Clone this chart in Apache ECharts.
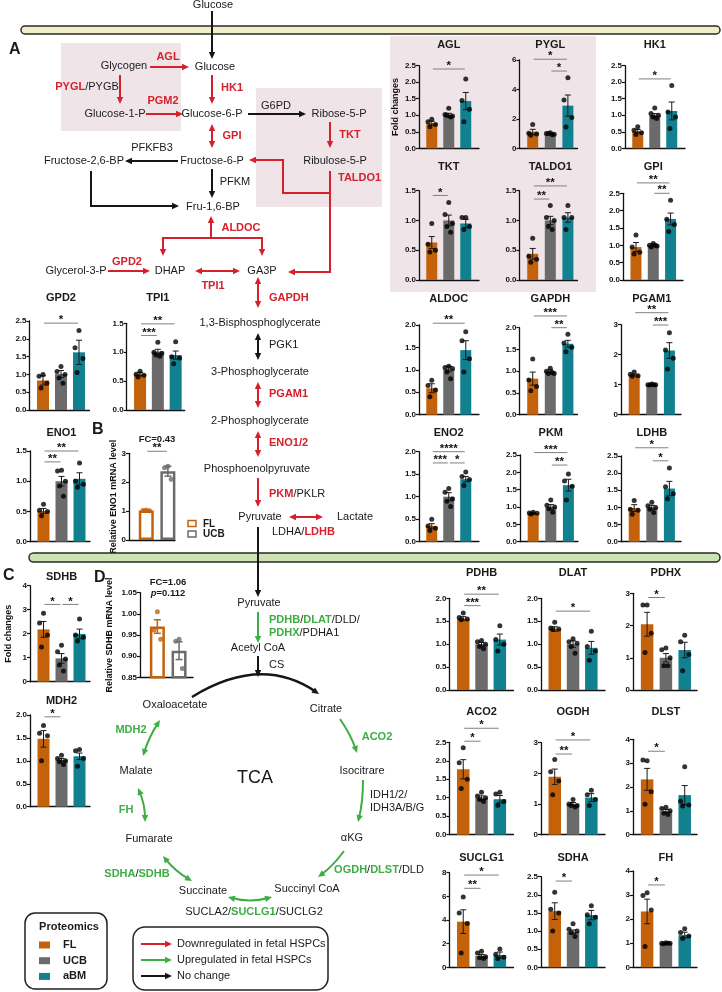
<!DOCTYPE html>
<html><head><meta charset="utf-8">
<script src="https://cdn.jsdelivr.net/npm/echarts@6/dist/echarts.min.js"></script>
<style>html,body{margin:0;padding:0;background:#fff}#c{width:722px;height:992px}</style>
</head><body><div id="c"></div>
<script>
// ---------------- DATA ----------------
const groups = ['FL', 'UCB', 'aBM'];
const groupsPCR = ['FL', 'UCB'];

const AGL_mean = [0.76, 1.00, 1.43];
const AGL_sem = [0.06, 0.06, 0.26];
const AGL_dots = [[0.88, 0.80, 0.72, 0.65], [1.21, 1.02, 0.98, 1.00, 0.95], [2.10, 1.45, 1.18, 0.80]];
const AGL_sig = [[0, 2, 2.4, '*']];

const PYGL_mean = [1.12, 0.98, 2.90];
const PYGL_sem = [0.17, 0.04, 0.72];
const PYGL_dots = [[1.62, 1.02, 0.98, 0.88], [1.05, 1.00, 0.95, 1.00, 0.92], [4.80, 3.28, 2.10, 1.45]];
const PYGL_sig = [[0, 2, 6.05, '*'], [1, 2, 5.25, '*']];

const HK1_mean = [0.52, 1.00, 1.13];
const HK1_sem = [0.05, 0.05, 0.27];
const HK1_dots = [[0.65, 0.55, 0.47, 0.42], [1.22, 1.05, 1.00, 0.95, 0.90], [1.90, 1.10, 0.95, 0.60]];
const HK1_sig = [[0, 2, 2.1, '*']];

const TKT_mean = [0.63, 1.00, 0.95];
const TKT_sem = [0.10, 0.09, 0.07];
const TKT_dots = [[0.95, 0.60, 0.50, 0.47], [1.30, 1.10, 0.95, 0.90, 0.80], [1.05, 1.05, 0.90, 0.85]];
const TKT_sig = [[0, 1, 1.42, '*']];

const TALDO1_mean = [0.44, 1.00, 1.05];
const TALDO1_sem = [0.09, 0.07, 0.08];
const TALDO1_dots = [[0.70, 0.40, 0.35, 0.30], [1.25, 1.05, 1.00, 0.90, 0.85], [1.25, 1.05, 1.05, 0.85]];
const TALDO1_sig = [[0, 1, 1.36, '**'], [0, 2, 1.58, '**']];

const GPI_mean = [0.95, 1.00, 1.76];
const GPI_sem = [0.13, 0.04, 0.17];
const GPI_dots = [[1.30, 0.95, 0.80, 0.75], [1.05, 1.00, 0.98, 0.95, 1.00], [2.30, 1.75, 1.60, 1.40]];
const GPI_sig = [[0, 2, 2.8, '**'], [1, 2, 2.5, '**']];

const ALDOC_mean = [0.59, 1.02, 1.44];
const ALDOC_sem = [0.10, 0.06, 0.21];
const ALDOC_dots = [[0.77, 0.65, 0.55, 0.40], [1.08, 1.05, 1.03, 0.95, 0.80], [1.85, 1.65, 1.25, 0.95]];
const ALDOC_sig = [[0, 2, 2.04, '**']];

const GAPDH_mean = [0.83, 1.00, 1.63];
const GAPDH_sem = [0.15, 0.03, 0.08];
const GAPDH_dots = [[1.28, 0.80, 0.65, 0.55], [1.07, 1.00, 0.95, 0.95, 0.97], [1.85, 1.65, 1.55, 1.45]];
const GAPDH_sig = [[0, 2, 2.27, '***'], [1, 2, 2.0, '**']];

const PGAM1_mean = [1.32, 1.01, 2.14];
const PGAM1_sem = [0.03, 0.01, 0.26];
const PGAM1_dots = [[1.42, 1.35, 1.30, 1.28], [1.02, 1.00, 1.00, 0.99, 1.00], [2.73, 2.16, 1.88, 1.52]];
const PGAM1_sig = [[0, 2, 3.4, '**'], [1, 2, 2.99, '***']];

const ENO2_mean = [0.35, 1.00, 1.39];
const ENO2_sem = [0.05, 0.09, 0.06];
const ENO2_dots = [[0.50, 0.35, 0.30, 0.25], [1.18, 1.10, 0.95, 0.90, 0.78], [1.55, 1.45, 1.38, 1.25]];
const ENO2_sig = [[0, 2, 2.0, '****'], [0, 1, 1.75, '***'], [1, 2, 1.75, '*']];

const PKM_mean = [0.82, 1.00, 1.63];
const PKM_sem = [0.02, 0.07, 0.17];
const PKM_dots = [[0.85, 0.83, 0.82, 0.80], [1.20, 1.05, 1.00, 0.95, 0.85], [1.95, 1.75, 1.60, 1.20]];
const PKM_sig = [[0, 2, 2.57, '***'], [1, 2, 2.21, '**']];

const LDHB_mean = [0.98, 1.00, 1.55];
const LDHB_sem = [0.10, 0.06, 0.21];
const LDHB_dots = [[1.20, 0.95, 0.92, 0.80], [1.15, 1.05, 1.00, 0.95, 0.85], [2.15, 1.60, 1.40, 1.25]];
const LDHB_sig = [[0, 2, 2.74, '*'], [1, 2, 2.36, '*']];

const PDHB_mean = [1.56, 1.00, 1.10];
const PDHB_sem = [0.04, 0.04, 0.12];
const PDHB_dots = [[1.68, 1.58, 1.55, 1.53], [1.08, 1.05, 1.00, 0.95, 0.90], [1.40, 1.10, 1.00, 0.85]];
const PDHB_sig = [[0, 2, 2.09, '**'], [0, 1, 1.84, '***']];

const DLAT_mean = [1.33, 1.00, 0.92];
const DLAT_sem = [0.05, 0.07, 0.14];
const DLAT_dots = [[1.48, 1.35, 1.33, 1.32], [1.12, 1.05, 1.02, 0.95, 0.80], [1.28, 0.95, 0.85, 0.65]];
const DLAT_sig = [[0, 2, 1.72, '*']];

const PDHX_mean = [2.04, 1.00, 1.24];
const PDHX_sem = [0.37, 0.13, 0.24];
const PDHX_dots = [[2.64, 2.64, 1.76, 1.16], [1.30, 1.25, 1.00, 0.75, 0.75], [1.70, 1.50, 1.10, 0.60]];
const PDHX_sig = [[0, 1, 2.87, '*']];

const ACO2_mean = [1.77, 1.00, 0.96];
const ACO2_sem = [0.26, 0.05, 0.10];
const ACO2_dots = [[2.35, 1.95, 1.50, 1.25], [1.15, 1.05, 1.00, 0.95, 0.90], [1.15, 1.10, 0.90, 0.80]];
const ACO2_sig = [[0, 2, 2.88, '*'], [0, 1, 2.53, '*']];

const OGDH_mean = [1.89, 1.00, 1.21];
const OGDH_sem = [0.25, 0.05, 0.13];
const OGDH_dots = [[2.45, 2.05, 1.75, 1.30], [1.15, 1.00, 0.95, 0.95, 0.90], [1.45, 1.30, 1.15, 0.95]];
const OGDH_sig = [[0, 2, 3.09, '*'], [0, 1, 2.63, '**']];

const DLST_mean = [2.32, 0.99, 1.66];
const DLST_sem = [0.46, 0.07, 0.40];
const DLST_dots = [[3.10, 3.13, 1.80, 1.28], [1.15, 1.10, 1.00, 0.90, 0.85], [2.85, 1.40, 1.25, 1.20]];
const DLST_sig = [[0, 1, 3.5, '*']];

const SUCLG1_mean = [3.86, 0.96, 1.04];
const SUCLG1_sem = [1.00, 0.12, 0.25];
const SUCLG1_dots = [[5.95, 4.60, 3.70, 1.20], [1.35, 1.20, 0.90, 0.80, 0.75], [1.55, 1.10, 0.85, 0.75]];
const SUCLG1_sig = [[0, 2, 7.8, '*'], [0, 1, 6.68, '**']];

const SDHA_mean = [1.55, 0.98, 1.44];
const SDHA_sem = [0.23, 0.05, 0.13];
const SDHA_dots = [[2.07, 1.60, 1.50, 1.00], [1.20, 1.05, 1.00, 0.95, 0.85], [1.70, 1.45, 1.38, 1.20]];
const SDHA_sig = [[0, 1, 2.38, '*']];

const FH_mean = [2.32, 1.00, 1.34];
const FH_sem = [0.51, 0.02, 0.12];
const FH_dots = [[3.10, 2.98, 2.38, 0.86], [1.02, 1.00, 1.00, 0.98, 1.00], [1.60, 1.45, 1.30, 1.20]];
const FH_sig = [[0, 1, 3.42, '*']];

const GPD2_mean = [0.83, 1.01, 1.62];
const GPD2_sem = [0.13, 0.10, 0.34];
const GPD2_dots = [[1.00, 0.95, 0.75, 0.62], [1.22, 1.08, 1.00, 0.90, 0.75], [2.23, 1.75, 1.45, 1.05]];
const GPD2_sig = [[0, 2, 2.44, '*']];

const TPI1_mean = [0.62, 1.01, 0.95];
const TPI1_sem = [0.03, 0.04, 0.07];
const TPI1_dots = [[0.67, 0.62, 0.60, 0.57], [1.17, 1.00, 0.98, 0.95, 0.93], [1.18, 0.92, 0.90, 0.80]];
const TPI1_sig = [[0, 2, 1.49, '**'], [0, 1, 1.29, '***']];

const ENO1_mean = [0.51, 1.00, 1.04];
const ENO1_sem = [0.04, 0.08, 0.10];
const ENO1_dots = [[0.62, 0.52, 0.50, 0.43], [1.18, 1.17, 1.00, 0.92, 0.75], [1.30, 1.00, 0.95, 0.90]];
const ENO1_sig = [[0, 2, 1.5, '**'], [0, 1, 1.32, '**']];

const SDHB_mean = [2.18, 0.97, 1.99];
const SDHB_sem = [0.33, 0.20, 0.20];
const SDHB_dots = [[2.85, 2.45, 1.95, 1.45], [1.52, 1.25, 0.95, 0.70, 0.45], [2.61, 1.95, 1.85, 1.70]];
const SDHB_sig = [[0, 1, 3.22, '*'], [1, 2, 3.22, '*']];

const MDH2_mean = [1.48, 1.02, 1.10];
const MDH2_sem = [0.18, 0.03, 0.07];
const MDH2_dots = [[1.77, 1.60, 1.55, 1.00], [1.12, 1.05, 1.00, 0.98, 0.92], [1.25, 1.22, 1.05, 0.88]];
const MDH2_sig = [[0, 1, 1.96, '*']];

// qPCR panels (B, D)
const ENO1mRNA_mean = [1.02, 2.38];
const ENO1mRNA_sem = [0.02, 0.17];
const ENO1mRNA_dots = [[1.04, 1.02, 1.01], [2.55, 2.50, 2.10]];
const ENO1mRNA_sig = [[0, 1, 3.07, '**']];

const SDHBmRNA_mean = [0.970, 0.913];
const SDHBmRNA_sem = [0.016, 0.021];
const SDHBmRNA_dots = [[1.005, 0.962, 0.940], [0.940, 0.935, 0.871]];
const SDHBmRNA_sig = [];

// ---------------- STYLE / LAYOUT ----------------
const FONT = '"Liberation Sans", Arial, Helvetica, sans-serif';
const RED = '#D6202B', GREEN = '#3DAE44', BLK = '#151515', TXT = '#1a1a1a';
const COL = ['#C4620B', '#6B6B6B', '#11808F'];
const pos3 = [0.75, 1.75, 2.75];
const pos2 = [0.8, 1.8];
const jit = [0, -0.22, 0.22, -0.11, 0.11];

const DATA = {
  AGL: [AGL_mean, AGL_sem, AGL_dots, AGL_sig], PYGL: [PYGL_mean, PYGL_sem, PYGL_dots, PYGL_sig],
  HK1: [HK1_mean, HK1_sem, HK1_dots, HK1_sig], TKT: [TKT_mean, TKT_sem, TKT_dots, TKT_sig],
  TALDO1: [TALDO1_mean, TALDO1_sem, TALDO1_dots, TALDO1_sig], GPI: [GPI_mean, GPI_sem, GPI_dots, GPI_sig],
  ALDOC: [ALDOC_mean, ALDOC_sem, ALDOC_dots, ALDOC_sig], GAPDH: [GAPDH_mean, GAPDH_sem, GAPDH_dots, GAPDH_sig],
  PGAM1: [PGAM1_mean, PGAM1_sem, PGAM1_dots, PGAM1_sig], ENO2: [ENO2_mean, ENO2_sem, ENO2_dots, ENO2_sig],
  PKM: [PKM_mean, PKM_sem, PKM_dots, PKM_sig], LDHB: [LDHB_mean, LDHB_sem, LDHB_dots, LDHB_sig],
  PDHB: [PDHB_mean, PDHB_sem, PDHB_dots, PDHB_sig], DLAT: [DLAT_mean, DLAT_sem, DLAT_dots, DLAT_sig],
  PDHX: [PDHX_mean, PDHX_sem, PDHX_dots, PDHX_sig], ACO2: [ACO2_mean, ACO2_sem, ACO2_dots, ACO2_sig],
  OGDH: [OGDH_mean, OGDH_sem, OGDH_dots, OGDH_sig], DLST: [DLST_mean, DLST_sem, DLST_dots, DLST_sig],
  SUCLG1: [SUCLG1_mean, SUCLG1_sem, SUCLG1_dots, SUCLG1_sig], SDHA: [SDHA_mean, SDHA_sem, SDHA_dots, SDHA_sig],
  FH: [FH_mean, FH_sem, FH_dots, FH_sig], GPD2: [GPD2_mean, GPD2_sem, GPD2_dots, GPD2_sig],
  TPI1: [TPI1_mean, TPI1_sem, TPI1_dots, TPI1_sig], ENO1: [ENO1_mean, ENO1_sem, ENO1_dots, ENO1_sig],
  SDHB: [SDHB_mean, SDHB_sem, SDHB_dots, SDHB_sig], MDH2: [MDH2_mean, MDH2_sem, MDH2_dots, MDH2_sig],
  ENO1mRNA: [ENO1mRNA_mean, ENO1mRNA_sem, ENO1mRNA_dots, ENO1mRNA_sig],
  SDHBmRNA: [SDHBmRNA_mean, SDHBmRNA_sem, SDHBmRNA_dots, SDHBmRNA_sig]
};

// name, axisX, topPx, bottomPx, width, unit, ymin, ymax, interval, decimals, barW, titleY
const layout = [
  ['AGL', 419, 65.7, 148.3, 60, 17, 0, 2.5, 0.5, 1, 11, 45],
  ['PYGL', 519.5, 60, 148.3, 58, 17.6, 0, 6, 2, 0, 11, 45],
  ['HK1', 625, 65.7, 148.3, 60, 17, 0, 2.5, 0.5, 1, 11, 45],
  ['TKT', 419, 190.7, 280, 60, 17, 0, 1.5, 0.5, 1, 11, 166.7],
  ['TALDO1', 519.5, 190.7, 280, 58, 17.6, 0, 1.5, 0.5, 1, 11, 166.7],
  ['GPI', 623, 193.3, 280, 60, 17.3, 0, 2.5, 0.5, 1, 11, 166.7],
  ['ALDOC', 419, 325, 414.7, 60, 17, 0, 2, 0.5, 1, 11, 299],
  ['GAPDH', 519.5, 327.7, 414.7, 58, 17.6, 0, 2, 0.5, 1, 11, 299],
  ['PGAM1', 621, 324.7, 414.7, 60, 17.6, 0, 3, 1, 0, 11, 299],
  ['ENO2', 419, 451.7, 541.7, 60, 17, 0, 2, 0.5, 1, 11, 433.3],
  ['PKM', 520, 455, 541.7, 58, 17.6, 0, 2.5, 0.5, 1, 11, 433.3],
  ['LDHB', 621, 456, 541.7, 60, 17.6, 0, 2.5, 0.5, 1, 11, 433.3],
  ['PDHB', 449.5, 598.3, 690, 64, 18.3, 0, 2, 0.5, 1, 12.5, 573.3],
  ['DLAT', 541, 598.3, 690, 64, 18.3, 0, 2, 0.5, 1, 12.5, 573.3],
  ['PDHX', 633, 593.3, 690, 64, 18.8, 0, 3, 1, 0, 12.5, 573.3],
  ['ACO2', 449.5, 742.3, 834.7, 64, 18.3, 0, 2.5, 0.5, 1, 12.5, 712.3],
  ['OGDH', 541, 742.7, 834.7, 64, 18.3, 0, 3, 1, 0, 12.5, 712.3],
  ['DLST', 633, 739.3, 834.7, 64, 18.8, 0, 4, 1, 0, 12.5, 712.3],
  ['SUCLG1', 449.5, 872.7, 967.3, 64, 18.3, 0, 8, 2, 0, 12.5, 858.3],
  ['SDHA', 541, 876.7, 967.3, 64, 18.3, 0, 2.5, 0.5, 1, 12.5, 858.3],
  ['FH', 633, 871, 967.3, 64, 18.8, 0, 4, 1, 0, 12.5, 858.3],
  ['GPD2', 29.5, 321, 410, 60, 18, 0, 2.5, 0.5, 1, 12, 298.3],
  ['TPI1', 126.7, 323.3, 410, 58, 17.8, 0, 1.5, 0.5, 1, 12, 298.3],
  ['ENO1', 30, 451, 541.7, 60, 18, 0, 1.5, 0.5, 1, 12, 433.3],
  ['SDHB', 30, 585.7, 681.7, 60, 18, 0, 4, 1, 0, 12, 576.7],
  ['MDH2', 30, 715, 806.7, 60, 18, 0, 2, 0.5, 1, 12, 701],
  ['ENO1mRNA', 129, 453.3, 540, 46, 21.6, 0, 3, 1, 0, 15, null],
  ['SDHBmRNA', 140, 592.7, 677.3, 53, 21.7, 0.85, 1.05, 0.05, 2, 15, null]
];
const yNames = {
  AGL: ['Fold changes', 19], SDHB: ['Fold changes', 17],
  ENO1mRNA: ['Relative ENO1 mRNA level', 9], SDHBmRNA: ['Relative SDHB mRNA level', 26]
};

// ---------------- GRAPHIC HELPERS ----------------
const G = [];
function txt(x, y, s, o = {}) {
  const al = o.align || 'center';
  const st = {
    text: s, fill: o.fill || TXT,
    font: (o.italic ? 'italic ' : '') + (o.bold ? 'bold ' : '') + (o.size || 11) + 'px ' + FONT,
    textAlign: al, textVerticalAlign: 'middle', align: al, verticalAlign: 'middle'
  };
  if (o.rich) st.rich = o.rich;
  G.push({ type: 'text', x: x, y: y, z: 30, silent: true, style: st });
}
function mkRich(size) {
  return {
    r: { fill: RED, font: 'bold ' + size + 'px ' + FONT, fontWeight: 'bold', fontSize: size, fontFamily: FONT },
    g: { fill: GREEN, font: 'bold ' + size + 'px ' + FONT, fontWeight: 'bold', fontSize: size, fontFamily: FONT },
    k: { fill: TXT, font: size + 'px ' + FONT, fontSize: size, fontFamily: FONT },
    i: { fill: TXT, font: 'italic bold ' + size + 'px ' + FONT, fontStyle: 'italic', fontWeight: 'bold', fontSize: size, fontFamily: FONT },
    b: { fill: TXT, font: 'bold ' + size + 'px ' + FONT, fontWeight: 'bold', fontSize: size, fontFamily: FONT }
  };
}
const RK = mkRich(11);
function head(tip, from, color, L = 7, W = 3.2) {
  const dx = tip[0] - from[0], dy = tip[1] - from[1], d = Math.hypot(dx, dy), ux = dx / d, uy = dy / d;
  const bx = tip[0] - ux * L, by = tip[1] - uy * L;
  G.push({ type: 'polygon', z: 25, silent: true, shape: { points: [tip, [bx - uy * W, by + ux * W], [bx + uy * W, by - ux * W]] }, style: { fill: color } });
}
function cut(a, b, k) { const dx = a[0] - b[0], dy = a[1] - b[1], d = Math.hypot(dx, dy); return [a[0] - dx / d * k, a[1] - dy / d * k]; }
function plain(pts, color, lw = 2) {
  G.push({ type: 'polyline', z: 24, silent: true, shape: { points: pts }, style: { stroke: color, lineWidth: lw, fill: null } });
}
function arr(pts, color, both = false, lw = 2) {
  const n = pts.length; const p = pts.map(q => q.slice());
  p[n - 1] = cut(pts[n - 1], pts[n - 2], 5);
  if (both) p[0] = cut(pts[0], pts[1], 5);
  plain(p, color, lw);
  head(pts[n - 1], pts[n - 2], color);
  if (both) head(pts[0], pts[1], color);
}
function curv(p0, c, p1, color, both = false, lw = 2) {
  const e = cut(p1, c, 4), s = both ? cut(p0, c, 4) : p0;
  G.push({ type: 'bezierCurve', z: 24, silent: true, shape: { x1: s[0], y1: s[1], x2: e[0], y2: e[1], cpx1: c[0], cpy1: c[1] }, style: { stroke: color, lineWidth: lw, fill: null } });
  head(p1, c, color);
  if (both) head(p0, c, color);
}
function rect(x, y, w, h, r, fill, stroke, lw, z) {
  G.push({ type: 'rect', z: z, silent: true, shape: { x: x, y: y, width: w, height: h, r: r }, style: { fill: fill, stroke: stroke, lineWidth: lw || 0 } });
}

// background boxes / membranes
rect(61, 43, 120, 88, 0, '#EFE5E8', null, 0, -5);
rect(256, 88, 126, 119, 0, '#EFE5E8', null, 0, -5);
rect(390, 36, 206, 256, 0, '#EFE5E8', null, 0, -5);
rect(21, 26, 699, 8, 4, '#F2EFC8', '#2a2a2a', 1.5, 5);
rect(29, 553, 691, 9, 4.5, '#CDE3B3', '#2a2a2a', 1.5, 5);

// panel letters
txt(9, 50, 'A', { bold: 1, size: 16, align: 'left' });
txt(92, 430, 'B', { bold: 1, size: 16, align: 'left' });
txt(3, 576, 'C', { bold: 1, size: 16, align: 'left' });
txt(94, 578, 'D', { bold: 1, size: 16, align: 'left' });

// ---- glycolysis pathway ----
txt(213, 5, 'Glucose');
arr([[212, 11], [212, 59]], BLK);
txt(215, 67, 'Glucose');
txt(124, 66, 'Glycogen');
arr([[150, 67], [189, 67]], RED); txt(168, 57, 'AGL', { fill: RED, bold: 1 });
txt(87, 87, '{r|PYGL}{k|/PYGB}', { rich: RK });
arr([[120, 75], [120, 104]], RED);
txt(115, 114, 'Glucose-1-P');
arr([[146, 114], [183, 114]], RED); txt(163, 101, 'PGM2', { fill: RED, bold: 1 });
arr([[212, 75], [212, 104]], RED); txt(232, 88, 'HK1', { fill: RED, bold: 1 });
txt(212, 114, 'Glucose-6-P');
arr([[248, 114], [306, 114]], BLK); txt(276, 106, 'G6PD');
txt(339, 114, 'Ribose-5-P');
arr([[330, 122], [330, 148]], RED); txt(350, 135, 'TKT', { fill: RED, bold: 1 });
txt(335, 161, 'Ribulose-5-P');
txt(338, 178, 'TALDO1', { fill: RED, bold: 1, align: 'left' });
arr([[330, 171], [330, 272], [288, 272]], RED);
arr([[330, 193], [283, 193], [283, 160], [249, 160]], RED);
arr([[212, 124], [212, 148]], RED, true); txt(232, 136, 'GPI', { fill: RED, bold: 1 });
txt(212, 161, 'Fructose-6-P');
arr([[178, 161], [125, 161]], BLK); txt(152, 148, 'PFKFB3');
txt(84, 161, 'Fructose-2,6-BP');
arr([[212, 169], [212, 198]], BLK); txt(235, 182, 'PFKM');
arr([[91, 171], [91, 206], [179, 206]], BLK);
txt(213, 207, 'Fru-1,6-BP');
arr([[211, 238], [211, 216]], RED); txt(241, 228, 'ALDOC', { fill: RED, bold: 1 });
plain([[163, 238], [262, 238]], RED);
arr([[163, 237], [163, 256]], RED); arr([[262, 237], [262, 256]], RED);
txt(76, 271, 'Glycerol-3-P');
arr([[108, 271], [150, 271]], RED); txt(127, 262, 'GPD2', { fill: RED, bold: 1 });
txt(170, 271, 'DHAP');
arr([[195, 271], [240, 271]], RED, true); txt(213, 286, 'TPI1', { fill: RED, bold: 1 });
txt(262, 271, 'GA3P');
arr([[258, 277], [258, 308]], RED, true); txt(269, 298, 'GAPDH', { fill: RED, bold: 1, align: 'left' });
txt(260, 323, '1,3-Bisphosphoglycerate');
arr([[258, 333], [258, 360]], BLK, true); txt(269, 345, 'PGK1', { align: 'left' });
txt(260, 372, '3-Phosphoglycerate');
arr([[258, 382], [258, 408]], RED, true); txt(269, 394, 'PGAM1', { fill: RED, bold: 1, align: 'left' });
txt(260, 421, '2-Phosphoglycerate');
arr([[258, 431], [258, 457]], RED, true); txt(269, 443, 'ENO1/2', { fill: RED, bold: 1, align: 'left' });
txt(257, 469, 'Phosphoenolpyruvate');
arr([[258, 478], [258, 507]], RED); txt(269, 494, '{r|PKM}{k|/PKLR}', { rich: RK, align: 'left' });
txt(260, 517, 'Pyruvate');
arr([[289, 517], [323, 517]], RED, true);
txt(355, 517, 'Lactate');
txt(272, 532, '{k|LDHA/}{r|LDHB}', { rich: RK, align: 'left' });
arr([[258, 527], [258, 597]], BLK);

// ---- TCA ----
txt(259, 603, 'Pyruvate');
arr([[258, 612], [258, 643]], GREEN);
txt(269, 620, '{g|PDHB}{k|/}{g|DLAT}{k|/DLD/}', { rich: RK, align: 'left' });
txt(269, 633, '{g|PDHX}{k|/PDHA1}', { rich: RK, align: 'left' });
txt(258, 648, 'Acetyl CoA');
arr([[258, 656], [258, 677]], BLK); txt(269, 665, 'CS', { align: 'left' });
curv([192, 697], [261, 654.5], [319, 694], BLK, false, 2.5);
txt(175, 705, 'Oxaloacetate'); txt(326, 709, 'Citrate');
curv([160, 720], [149, 737], [143, 756], GREEN, true); txt(131, 730, 'MDH2', { fill: GREEN, bold: 1 });
curv([340, 719], [351, 735], [357, 753], GREEN); txt(377, 737, 'ACO2', { fill: GREEN, bold: 1 });
txt(136, 771, 'Malate'); txt(362, 771, 'Isocitrare');
txt(255, 778, 'TCA', { size: 18 });
curv([138, 788], [145, 805], [145, 822], GREEN, true); txt(126, 810, 'FH', { fill: GREEN, bold: 1 });
curv([363, 780], [363, 802], [358, 822], GREEN); txt(370, 795, 'IDH1/2/', { align: 'left' }); txt(370, 808, 'IDH3A/B/G', { align: 'left' });
txt(149, 839, 'Fumarate'); txt(352, 838, 'αKG');
curv([163, 856], [175, 871], [192, 881], GREEN, true); txt(137, 874, '{g|SDHA}{k|/}{g|SDHB}', { rich: RK });
curv([344, 851], [333, 866], [318, 877], GREEN); txt(379, 870, '{g|OGDH}{k|/}{g|DLST}{k|/DLD}', { rich: RK });
txt(203, 891, 'Succinate'); txt(307, 889, 'Succinyl CoA');
curv([228, 897], [250, 903], [272, 897], GREEN, true);
txt(254, 912, '{k|SUCLA2/}{g|SUCLG1}{k|/SUCLG2}', { rich: RK });

// ---- legends ----
rect(25, 913, 82, 76, 10, null, '#222', 1.5, 5);
txt(69, 927, 'Proteomics', { bold: 1 });
groups.forEach((g, k) => {
  rect(39, 941.5 + k * 15.7, 11, 7, 0, COL[k], null, 0, 6);
  txt(63, 945 + k * 15.7, g, { bold: 1, align: 'left' });
});
rect(133, 927, 195, 63, 12, null, '#222', 1.5, 5);
[[RED, 'Downregulated in fetal HSPCs'], [GREEN, 'Upregulated in fetal HSPCs'], [BLK, 'No change']].forEach((it, k) => {
  const y = 944 + k * 16;
  arr([[141, y], [172, y]], it[0]);
  txt(177, y, it[1], { align: 'left' });
});
// B legend
groupsPCR.forEach((g, k) => {
  rect(188, 520.5 + k * 10.5, 8, 6, 0, '#fff', COL[k], 1.5, 6);
  txt(203, 524 + k * 10.5, g, { bold: 1, align: 'left', size: 10 });
});
// B / D titles
txt(157, 439, 'FC=0.43', { bold: 1, size: 9.5 });
txt(168, 582, 'FC=1.06', { bold: 1, size: 9.5 });
txt(168, 593.5, '{i|p}{b|=0.112}', { rich: mkRich(9.5) });

// ---------------- CHARTS ----------------
const grids = [], xAxes = [], yAxes = [], series = [];
function errRender(color, lw, cap) {
  return function (params, api) {
    const x = api.value(0), m = api.value(1), s = api.value(2);
    const a = api.coord([x, m + s]), b = api.coord([x, m - s]);
    const st = { stroke: color, lineWidth: lw };
    return { type: 'group', children: [
      { type: 'line', shape: { x1: a[0], y1: a[1], x2: b[0], y2: b[1] }, style: st },
      { type: 'line', shape: { x1: a[0] - cap, y1: a[1], x2: a[0] + cap, y2: a[1] }, style: st },
      { type: 'line', shape: { x1: b[0] - cap, y1: b[1], x2: b[0] + cap, y2: b[1] }, style: st }
    ] };
  };
}
function sigRender(sig) {
  return function (params, api) {
    const s = sig[params.dataIndex];
    const a = api.coord([api.value(0), api.value(2)]), b = api.coord([api.value(1), api.value(2)]);
    return { type: 'group', children: [
      { type: 'line', shape: { x1: a[0] + 1, y1: a[1], x2: b[0] - 1, y2: b[1] }, style: { stroke: '#808080', lineWidth: 1 } },
      { type: 'text', x: (a[0] + b[0]) / 2, y: a[1] - 3, style: { text: s[3], fill: '#111', font: 'bold 11.5px ' + FONT, textAlign: 'center', textVerticalAlign: 'middle', align: 'center', verticalAlign: 'middle' } }
    ] };
  };
}

layout.forEach((L, i) => {
  const [name, ax, top, bot, W, unit, ymin, ymax, itv, dec, bw, titleY] = L;
  const [mean, sem, dots, sig] = DATA[name];
  const pcr = mean.length === 2;
  const pos = pcr ? pos2 : pos3;
  grids.push({ left: ax, top: top, width: W, height: bot - top });
  xAxes.push({
    gridIndex: i, type: 'value', min: 0, max: W / unit,
    axisLine: { show: true, onZero: false, lineStyle: { color: '#111', width: 1.3 } },
    axisTick: { show: false }, axisLabel: { show: false }, splitLine: { show: false }
  });
  const ya = {
    gridIndex: i, type: 'value', min: ymin, max: ymax, interval: itv,
    axisLine: { show: true, onZero: false, lineStyle: { color: '#111', width: 1.3 } },
    axisTick: { show: true, length: 3, lineStyle: { color: '#111', width: 1.2 } },
    axisLabel: { fontSize: 8, fontWeight: 'bold', color: '#111', fontFamily: FONT, margin: 3, formatter: v => v.toFixed(dec) },
    splitLine: { show: false }
  };
  if (yNames[name]) {
    Object.assign(ya, { name: yNames[name][0], nameLocation: 'middle', nameGap: yNames[name][1], nameRotate: 90,
      nameTextStyle: { fontWeight: 'bold', fontSize: 9, fontFamily: FONT, color: '#111' } });
  }
  yAxes.push(ya);
  if (titleY !== null) txt(ax + pos[1] * unit, titleY, name, { bold: 1 });

  series.push({
    type: 'bar', xAxisIndex: i, yAxisIndex: i, barWidth: bw, silent: true, z: 2,
    data: mean.map((m, k) => ({ value: [pos[k], m], itemStyle: pcr ? { color: '#fff', borderColor: COL[k], borderWidth: 2.5 } : { color: COL[k] } }))
  });
  series.push({
    type: 'custom', xAxisIndex: i, yAxisIndex: i, silent: true, clip: false, z: 3,
    renderItem: pcr ? function (params, api) { return errRender(COL[params.dataIndex], 1.5, 3.5)(params, api); } : errRender('#1a1a1a', 1, 3),
    data: mean.map((m, k) => [pos[k], m, sem[k]])
  });
  const pts = [];
  dots.forEach((arrv, k) => arrv.forEach((v, j) => pts.push({ value: [pos[k] + jit[j] * (pcr ? 0.7 : 1), v], itemStyle: { color: pcr ? COL[k] : '#000' } })));
  series.push({ type: 'scatter', xAxisIndex: i, yAxisIndex: i, symbolSize: 5, silent: true, z: 4, data: pts });
  if (sig.length) {
    series.push({
      type: 'custom', xAxisIndex: i, yAxisIndex: i, silent: true, clip: false, z: 5,
      encode: { x: [0, 1], y: 2 },
      renderItem: sigRender(sig),
      data: sig.map(s => [pos[s[0]], pos[s[1]], s[2]])
    });
  }
});

const chart = echarts.init(document.getElementById('c'), null, { renderer: 'canvas' });
chart.setOption({
  animation: false,
  backgroundColor: '#fff',
  grid: grids, xAxis: xAxes, yAxis: yAxes, series: series,
  graphic: { elements: G }
});
</script>
</body></html>
